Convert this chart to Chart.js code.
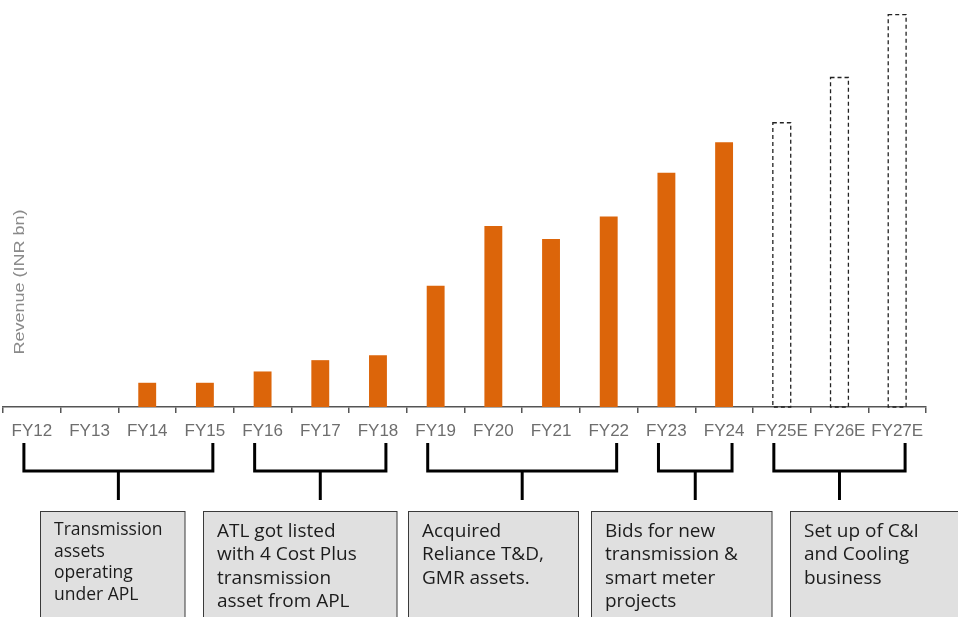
<!DOCTYPE html>
<html>
<head>
<meta charset="utf-8">
<script src="https://cdn.jsdelivr.net/npm/chart.js@4.4.1/dist/chart.umd.min.js"></script>
<style>
  html, body { margin: 0; padding: 0; background: #ffffff; }
  #wrap { width: 958px; height: 617px; }
</style>
</head>
<body>
<div id="wrap"><canvas id="c" width="958" height="617"></canvas></div>
<script>
// ---- data ----
const categories = ['FY12','FY13','FY14','FY15','FY16','FY17','FY18','FY19','FY20','FY21','FY22','FY23','FY24','FY25E','FY26E','FY27E'];
const actualRevenue = [0, 0, 15, 15, 22, 29, 32, 75, 112, 104, 118, 145, 164, null, null, null];
const estimatedRevenue = [null, null, null, null, null, null, null, null, null, null, null, null, null, 176, 204, 243];
const yAxisTitle = 'Revenue (INR bn)';
const groupFirst = [0, 4, 7, 11, 13];
const groupLast = [3, 6, 10, 12, 15];
const noteTexts = [
  ['Transmission', 'assets', 'operating', 'under APL'],
  ['ATL got listed', 'with 4 Cost Plus', 'transmission', 'asset from APL'],
  ['Acquired', 'Reliance T&D,', 'GMR assets.'],
  ['Bids for new', 'transmission &', 'smart meter', 'projects'],
  ['Set up of C&I', 'and Cooling', 'business']
];

// ---- layout / style ----
const boxLayout = [
  {x: 40.5, w: 144.5, size: 17.5, lh: 21.7, y0: 530},
  {x: 203.5, w: 193.5, size: 19, lh: 23.4, y0: 531.5},
  {x: 408.5, w: 170, size: 19, lh: 23.4, y0: 531.5},
  {x: 591.5, w: 180.5, size: 19, lh: 23.4, y0: 531.5},
  {x: 790.5, w: 180, size: 19, lh: 23.4, y0: 531.5}
];
const boxTop = 511.5;

const annotate = {
  id: 'annotate',
  afterDatasetsDraw(chart) {
    const ctx = chart.ctx;
    const metaEst = chart.getDatasetMeta(1);
    ctx.save();
    ctx.strokeStyle = '#222';
    ctx.lineWidth = 1.3;
    ctx.setLineDash([4, 3]);
    metaEst.data.forEach((bar, i) => {
      if (estimatedRevenue[i] == null) return;
      const p = bar.getProps(['x', 'y', 'base', 'width'], true);
      ctx.strokeRect(p.x - p.width / 2, p.y, p.width, p.base - p.y);
    });
    ctx.restore();
  },
  afterDraw(chart) {
    const ctx = chart.ctx;
    const xs = chart.scales.x;
    const barW = chart.getDatasetMeta(1).data[13].width;
    // y title
    ctx.save();
    ctx.translate(20, 282);
    ctx.rotate(-Math.PI / 2);
    ctx.font = '14px "Liberation Sans", Arial, sans-serif';
    const tw = ctx.measureText(yAxisTitle).width;
    ctx.scale(145 / tw, 1);
    ctx.fillStyle = '#8a8a8a';
    ctx.textAlign = 'center';
    ctx.textBaseline = 'middle';
    ctx.fillText(yAxisTitle, 0, 0);
    ctx.restore();

    // brackets
    ctx.save();
    ctx.strokeStyle = '#000';
    ctx.lineWidth = 3;
    ctx.lineJoin = 'miter';
    ctx.lineCap = 'butt';
    for (let g = 0; g < groupFirst.length; g++) {
      const l = xs.getPixelForValue(groupFirst[g]) - barW / 2 + 1;
      const r = xs.getPixelForValue(groupLast[g]) + barW / 2 - 1;
      const m = (l + r) / 2;
      ctx.beginPath();
      ctx.moveTo(l, 443);
      ctx.lineTo(l, 471);
      ctx.lineTo(r, 471);
      ctx.lineTo(r, 443);
      ctx.stroke();
      ctx.beginPath();
      ctx.moveTo(m, 471);
      ctx.lineTo(m, 500);
      ctx.stroke();
    }
    ctx.restore();

    // note boxes
    ctx.save();
    boxLayout.forEach((b, i) => {
      ctx.fillStyle = '#e0e0e0';
      ctx.fillRect(b.x, boxTop, b.w, 140);
      ctx.strokeStyle = '#3a3a3a';
      ctx.lineWidth = 1;
      ctx.strokeRect(b.x, boxTop, b.w, 140);
      ctx.fillStyle = '#1c1c1c';
      ctx.font = b.size + 'px "Open Sans", "Noto Sans", sans-serif';
      ctx.textAlign = 'left';
      ctx.textBaseline = 'middle';
      noteTexts[i].forEach((line, k) => {
        ctx.fillText(line, b.x + 13.5, b.y0 + k * b.lh);
      });
    });
    ctx.restore();
  }
};

new Chart(document.getElementById('c'), {
  type: 'bar',
  data: {
    labels: categories,
    datasets: [
      {
        label: 'Revenue',
        data: actualRevenue,
        backgroundColor: '#DC650A',
        borderWidth: 0,
        grouped: false,
        barPercentage: 0.31,
        categoryPercentage: 1
      },
      {
        label: 'Revenue (E)',
        data: estimatedRevenue,
        backgroundColor: 'rgba(0,0,0,0)',
        borderWidth: 0,
        grouped: false,
        barPercentage: 0.31,
        categoryPercentage: 1
      }
    ]
  },
  options: {
    responsive: false,
    devicePixelRatio: 1,
    animation: false,
    layout: { padding: { left: 3, right: 32, top: 0, bottom: 0 } },
    plugins: { legend: { display: false }, tooltip: { enabled: false } },
    scales: {
      x: {
        offset: true,
        afterFit(scale) { scale.height = 210; },
        border: { display: true, color: '#555', width: 1.5 },
        grid: { offset: true, drawOnChartArea: false, drawTicks: true, tickLength: 6, color: '#555', lineWidth: 1.5 },
        ticks: {
          padding: 8,
          color: '#6e6e6e',
          maxRotation: 0,
          autoSkip: false,
          font: { family: '"Liberation Sans", Arial, sans-serif', size: 17 }
        }
      },
      y: {
        display: false,
        min: 0,
        max: 252
      }
    }
  },
  plugins: [annotate]
});
</script>
</body>
</html>
